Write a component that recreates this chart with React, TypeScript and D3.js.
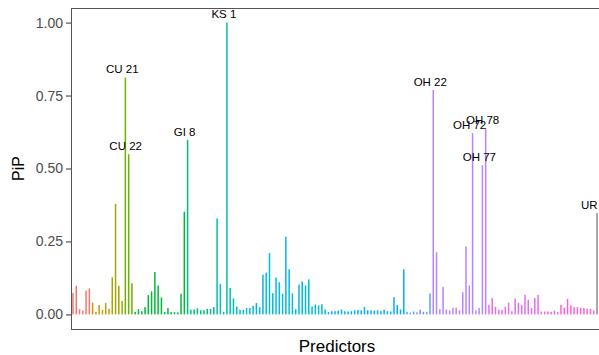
import { useEffect, useRef } from "react";
import * as d3 from "d3";

// posterior inclusion probability per predictor, left to right
const pip = [
    0.073, 0.098, 0.018, 0.013, 0.081, 0.089, 0.04, 0.009, 0.032, 0.016,
    0.039, 0.019, 0.127, 0.379, 0.098, 0.046, 0.811, 0.549, 0.107, 0.009,
    0.018, 0.011, 0.025, 0.066, 0.079, 0.145, 0.099, 0.058, 0.008, 0.022,
    0.008, 0.008, 0.007, 0.071, 0.352, 0.598, 0.016, 0.017, 0.021, 0.014,
    0.015, 0.019, 0.019, 0.025, 0.329, 0.104, 0.009, 1.0, 0.091, 0.055,
    0.027, 0.016, 0.016, 0.022, 0.022, 0.029, 0.039, 0.025, 0.136, 0.143,
    0.21, 0.073, 0.126, 0.11, 0.071, 0.266, 0.155, 0.072, 0.018, 0.102,
    0.113, 0.099, 0.12, 0.027, 0.034, 0.031, 0.035, 0.017, 0.008, 0.011,
    0.011, 0.013, 0.017, 0.011, 0.01, 0.011, 0.014, 0.015, 0.014, 0.026,
    0.014, 0.014, 0.013, 0.014, 0.011, 0.016, 0.011, 0.01, 0.059, 0.032,
    0.017, 0.155, 0.009, 0.006, 0.01, 0.007, 0.016, 0.009, 0.009, 0.072,
    0.769, 0.213, 0.018, 0.094, 0.017, 0.014, 0.023, 0.023, 0.014, 0.076,
    0.233, 0.099, 0.621, 0.014, 0.022, 0.511, 0.638, 0.033, 0.056, 0.026,
    0.016, 0.016, 0.026, 0.04, 0.011, 0.054, 0.04, 0.032, 0.067, 0.05,
    0.022, 0.056, 0.067, 0.01, 0.01, 0.01, 0.009, 0.013, 0.008, 0.033,
    0.023, 0.053, 0.031, 0.025, 0.025, 0.023, 0.022, 0.019, 0.019, 0.013,
    0.347,
];

// colour groups (run lengths along the x axis) and their colours
const groupSizes = [6, 1, 5, 4, 3, 16, 9, 8, 26, 24, 8, 17, 16, 17, 1];
const groupColors = [
    "#F8766D", "#E58700", "#C99800", "#A3A500", "#6BB100", "#00BA38",
    "#00BF7D", "#00C0AF", "#00BCD8", "#00B0F6", "#619CFF", "#B983FF",
    "#E76BF3", "#FD61D1", "#8C8C8C",
];

// labelled predictors (1-based position) and their names
const labelPositions = [17, 18, 36, 48, 111, 123, 126, 127, 161];
const labelNames = ["CU 21", "CU 22", "GI 8", "KS 1", "OH 22", "OH 72", "OH 77", "OH 78", "UR 1"];

const yTicks = [0, 0.25, 0.5, 0.75, 1];

export default function App() {
    const svgRef = useRef<SVGSVGElement | null>(null);

    useEffect(() => {
        if (!svgRef.current) return;
        d3.select(svgRef.current).selectAll("*").remove();

        const width = 599;
        const height = 355;
        const margin = { top: 8, right: 0, bottom: 26, left: 71 };
        const innerWidth = width - margin.left - margin.right;
        const innerHeight = height - margin.top - margin.bottom;

        const names = pip.map((_, i) => {
            const k = labelPositions.indexOf(i + 1);
            return k >= 0 ? labelNames[k] : `P${i + 1}`;
        });
        const colorOf: string[] = [];
        groupSizes.forEach((n, g) => {
            for (let j = 0; j < n; j++) colorOf.push(groupColors[g]);
        });

        const data = pip.map((v, i) => ({ name: names[i], value: v, color: colorOf[i] }));

        const svg = d3
            .select(svgRef.current)
            .attr("width", width)
            .attr("height", height)
            .style("font-family", "'Liberation Sans', Arial, sans-serif");

        svg.append("rect").attr("width", width).attr("height", height).attr("fill", "white");

        const g = svg.append("g").attr("transform", `translate(${margin.left},${margin.top})`);

        const x = d3.scalePoint<string>().domain(names).range([0, innerWidth]).padding(0.6);
        const y = d3.scaleLinear().domain([-0.05, 1.05]).range([innerHeight, 0]);

        // y axis
        const yAxis = g
            .append("g")
            .call(
                d3
                    .axisLeft(y)
                    .tickValues(yTicks)
                    .tickFormat((d) => d3.format(".2f")(d as number))
                    .tickSize(5)
                    .tickPadding(3)
            );
        yAxis.select(".domain").remove();
        yAxis.selectAll("line").attr("stroke", "#333333");
        yAxis.selectAll("text")
            .attr("fill", "#4D4D4D")
            .attr("font-size", "14px")
            .attr("font-family", "'Liberation Sans', Arial, sans-serif");

        // bars
        g.selectAll(".bar")
            .data(data)
            .enter()
            .append("rect")
            .attr("class", "bar")
            .attr("x", (d) => (x(d.name) || 0) - 0.75)
            .attr("width", 1.5)
            .attr("y", (d) => y(d.value))
            .attr("height", (d) => y(0) - y(d.value))
            .attr("fill", (d) => d.color);

        // labels over the high-PiP bars
        const labelled = data.filter((_, i) => labelPositions.includes(i + 1));
        g.selectAll(".bar-label")
            .data(labelled)
            .enter()
            .append("text")
            .attr("class", "bar-label")
            .attr("x", (d) => (x(d.name) || 0) - 3)
            .attr("y", (d) => y(d.value) - 4.3)
            .attr("text-anchor", "middle")
            .attr("font-size", "11.5px")
            .attr("fill", "#000")
            .text((d) => d.name);

        // panel border (its right side lies just past the picture's edge)
        g.append("rect")
            .attr("x", 0.5)
            .attr("y", 0.5)
            .attr("width", innerWidth + 4)
            .attr("height", innerHeight)
            .attr("fill", "none")
            .attr("stroke", "#555555")
            .attr("stroke-width", 1);

        // axis titles
        svg.append("text")
            .attr("x", margin.left + innerWidth / 2 + 2)
            .attr("y", 352)
            .attr("text-anchor", "middle")
            .attr("font-size", "17px")
            .attr("fill", "#000")
            .text("Predictors");

        svg.append("text")
            .attr("transform", `translate(24,${margin.top + innerHeight / 2}) rotate(-90)`)
            .attr("text-anchor", "middle")
            .attr("font-size", "16px")
            .attr("fill", "#000")
            .text("PiP");
    }, []);

    return <svg ref={svgRef} style={{ position: "absolute", left: 0, top: 0 }} />;
}
